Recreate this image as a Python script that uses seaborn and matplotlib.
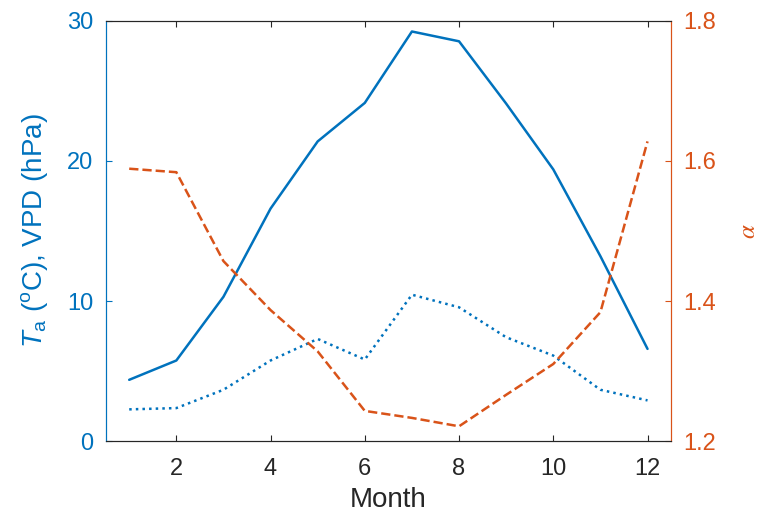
import matplotlib
matplotlib.use("Agg")
import matplotlib.pyplot as plt
import seaborn as sns
import pandas as pd

# ---- data ----
months = [1, 2, 3, 4, 5, 6, 7, 8, 9, 10, 11, 12]
ta = [4.37, 5.75, 10.3, 16.6, 21.4, 24.15, 29.25, 28.55, 24.1, 19.4, 13.2, 6.58]
vpd = [2.26, 2.35, 3.66, 5.75, 7.29, 5.82, 10.45, 9.55, 7.41, 6.1, 3.66, 2.9]
alpha = [1.589, 1.584, 1.457, 1.387, 1.328, 1.243, 1.233, 1.221, 1.266, 1.31, 1.384, 1.628]
xticks = [2, 4, 6, 8, 10, 12]
lticks = [0, 10, 20, 30]
rticks = [1.2, 1.4, 1.6, 1.8]

BLUE = "#0072BD"
ORANGE = "#D95319"
DARK = "#262626"

sns.set_style("ticks")
plt.rcParams["font.family"] = ["Liberation Sans", "DejaVu Sans"]
plt.rcParams["mathtext.fontset"] = "custom"
plt.rcParams["mathtext.rm"] = "Liberation Sans"
plt.rcParams["mathtext.it"] = "Liberation Sans:italic"
plt.rcParams["mathtext.bf"] = "Liberation Sans:bold"

df = pd.DataFrame({"month": months, "ta": ta, "vpd": vpd, "alpha": alpha})

fig = plt.figure(figsize=(7.6, 5.25), dpi=100)
ax = fig.add_axes([0.139, 0.16, 0.744, 0.8])
ax2 = ax.twinx()

sns.lineplot(data=df, x="month", y="ta", ax=ax, color=BLUE, lw=1.8, linestyle="-")
sns.lineplot(data=df, x="month", y="vpd", ax=ax, color=BLUE, lw=1.8, linestyle=":")
sns.lineplot(data=df, x="month", y="alpha", ax=ax2, color=ORANGE, lw=1.8, linestyle="--")

ax.set_xlim(0.5, 12.5)
ax.set_ylim(0, 30)
ax2.set_ylim(1.2, 1.8)
ax.set_xticks(xticks)
ax.set_yticks(lticks)
ax2.set_yticks(rticks)
ax2.set_yticklabels([f"{v:.1f}" for v in rticks])

fs = 17
lfs = 20
ax.set_xlabel("Month", fontsize=lfs, color=DARK, labelpad=5)
ax.set_ylabel(r"$\mathit{T}_{\mathrm{a}}$ ($^{\mathrm{o}}$C), VPD (hPa)", fontsize=lfs,
              color=BLUE, labelpad=12)
lab = ax2.set_ylabel(r"$\alpha$", fontsize=18, color=ORANGE, math_fontfamily="stix",
                     rotation=90)
ax2.yaxis.set_label_coords(1.136, 0.5)
lab.set_ha("center")
lab.set_va("center")

ax.tick_params(axis="x", direction="in", top=True, bottom=True, length=4, width=0.8,
               colors=DARK, labelsize=fs, pad=12)
ax.tick_params(axis="y", direction="in", left=True, right=False, length=4, width=0.8,
               colors=BLUE, labelsize=fs, pad=9)
ax2.tick_params(axis="y", direction="in", right=True, left=False, length=4, width=0.8,
                colors=ORANGE, labelsize=fs, pad=9)

for a in (ax, ax2):
    for s in a.spines.values():
        s.set_visible(True)
        s.set_linewidth(0.8)
        s.set_color(DARK)
ax.spines["left"].set_color(BLUE)
ax2.spines["left"].set_color(BLUE)
ax.spines["right"].set_color(ORANGE)
ax2.spines["right"].set_color(ORANGE)

fig.savefig("out.png", dpi=100)
